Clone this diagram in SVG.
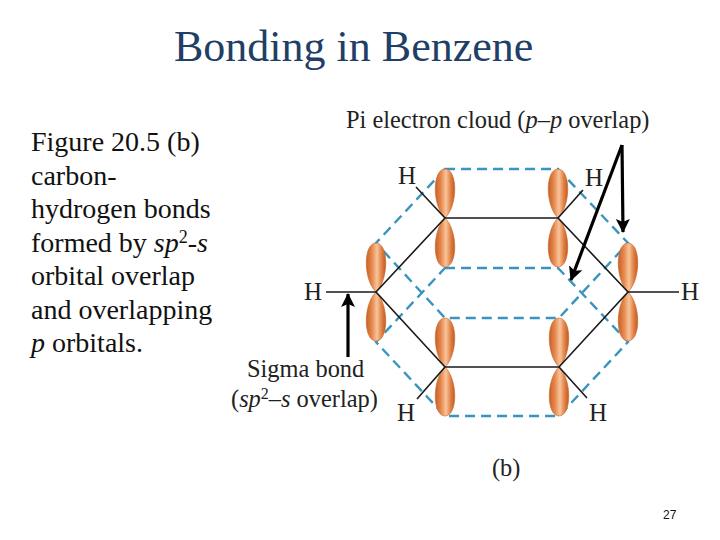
<svg xmlns="http://www.w3.org/2000/svg" width="720" height="540" viewBox="0 0 720 540">
<style>
.s{font-family:"Liberation Serif","Times New Roman",serif}
.title{font-size:44px;fill:#1f3f66}
.body{font-size:28px;fill:#111}
.lab{font-size:24.4px;fill:#222}
.h{font-size:25px;fill:#222;text-anchor:middle}
.dash{fill:none;stroke:#3a94bd;stroke-width:2.4;stroke-dasharray:10 6}
.bond{fill:none;stroke:#1a1a1a;stroke-width:1.6}
.arr{fill:none;stroke:#000;stroke-width:3.2}
.lobe{fill:url(#lg);stroke:#c8642c;stroke-width:.6}
</style>
<defs>
<linearGradient id="lg" x1="0" x2="1" y1="0" y2="0">
<stop offset="0" stop-color="#c85f26"/><stop offset=".3" stop-color="#e68a50"/><stop offset=".55" stop-color="#f8c49a"/><stop offset=".8" stop-color="#e07e42"/><stop offset="1" stop-color="#c25a22"/>
</linearGradient>
<path id="lobeU" class="lobe" d="M0 0C-13 -12 -13 -49 0 -49C13 -49 13 -12 0 0Z"/>
<path id="lobeD" class="lobe" d="M0 0C-13 12 -13 49 0 49C13 49 13 12 0 0Z"/>
<marker id="ah" markerUnits="userSpaceOnUse" markerWidth="16" markerHeight="16" refX="13" refY="7" orient="auto"><path d="M0 0L14 7L0 14L3 7Z" fill="#000"/></marker>
</defs>
<rect width="720" height="540" fill="#fff"/>
<text class="s title" x="174" y="61">Bonding in Benzene</text>
<g id="caption" class="s body">
<text x="31" y="151">Figure 20.5 (b)</text>
<text x="31" y="185">carbon-</text>
<text x="31" y="218">hydrogen bonds</text>
<text x="31" y="252" xml:space="preserve">formed by <tspan font-style="italic">sp</tspan><tspan font-size="18" dy="-9">2</tspan><tspan dy="9">-</tspan><tspan font-style="italic">s</tspan></text>
<text x="31" y="285">orbital overlap</text>
<text x="31" y="319">and overlapping</text>
<text x="31" y="352"><tspan font-style="italic">p</tspan> orbitals.</text>
</g>
<g id="connectors">
<path class="dash" d="M445 169H558L628 243L559 318H445L376 243Z"/>
<path class="dash" d="M445 268H558L628 342L559 416H445L376 342Z"/>
</g>
<g id="c1"><use href="#lobeU" x="445" y="218"/><use href="#lobeD" x="445" y="218"/></g>
<g id="c2"><use href="#lobeU" x="558" y="218"/><use href="#lobeD" x="558" y="218"/></g>
<g id="c3"><use href="#lobeU" x="376" y="292"/><use href="#lobeD" x="376" y="292"/></g>
<g id="c4"><use href="#lobeU" x="628" y="292"/><use href="#lobeD" x="628" y="292"/></g>
<g id="c5"><use href="#lobeU" x="445" y="367"/><use href="#lobeD" x="445" y="367"/></g>
<g id="c6"><use href="#lobeU" x="559" y="367"/><use href="#lobeD" x="559" y="367"/></g>
<g id="bonds">
<path class="bond" d="M445 218H558L628 292L559 367H445L376 292Z"/>
<path class="bond" d="M445 218L416 187M558 218L583 190M376 292H326M628 292H679M445 367L417 399M559 367L587 398"/>
</g>
<g id="arrows">
<path class="arr" d="M622 145L623 232" marker-end="url(#ah)"/>
<path class="arr" d="M622 145L571 280" marker-end="url(#ah)"/>
<path class="arr" d="M348 357V294" marker-end="url(#ah)"/>
</g>
<g id="labels" class="s">
<text class="h" x="407" y="184">H</text>
<text class="h" x="594" y="186">H</text>
<text class="h" x="313" y="300">H</text>
<text class="h" x="690" y="300">H</text>
<text class="h" x="406" y="421">H</text>
<text class="h" x="598" y="421">H</text>
<text class="lab" x="346" y="128">Pi electron cloud (<tspan font-style="italic">p</tspan>–<tspan font-style="italic">p</tspan> overlap)</text>
<text class="lab" x="247" y="377">Sigma bond</text>
<text class="lab" x="231" y="407">(<tspan font-style="italic">sp</tspan><tspan font-size="16" dy="-8">2</tspan><tspan dy="8">–</tspan><tspan font-style="italic">s</tspan> overlap)</text>
<text class="lab" x="492" y="476">(b)</text>
</g>
<text x="663" y="519" font-family="Liberation Sans,Arial,sans-serif" font-size="12" fill="#111">27</text>
</svg>
